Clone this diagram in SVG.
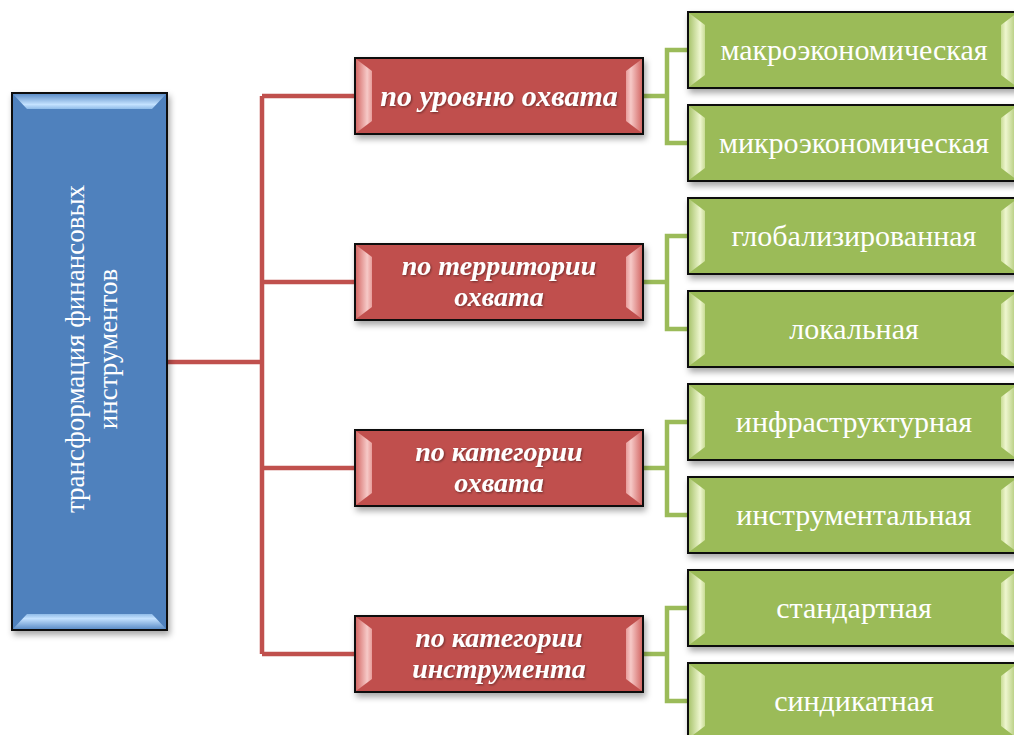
<svg xmlns="http://www.w3.org/2000/svg" width="1014" height="735" viewBox="0 0 1014 735">
<defs>
<filter id="sh" x="-10%" y="-10%" width="130%" height="140%">
<feDropShadow dx="2" dy="4" stdDeviation="3" flood-color="#000" flood-opacity="0.35"/>
</filter>
<filter id="ts" x="-5%" y="-20%" width="110%" height="150%">
<feDropShadow dx="1" dy="1" stdDeviation="1" flood-color="#000" flood-opacity="0.45"/>
</filter>
<linearGradient id="rbL" x1="0" y1="0" x2="1" y2="0"><stop offset="0" stop-color="#d46a67"/><stop offset="0.7" stop-color="#f6c9c7"/><stop offset="1" stop-color="#e79c9a"/></linearGradient>
<linearGradient id="rbR" x1="1" y1="0" x2="0" y2="0"><stop offset="0" stop-color="#d46a67"/><stop offset="0.7" stop-color="#f6c9c7"/><stop offset="1" stop-color="#e79c9a"/></linearGradient>
<linearGradient id="gbL" x1="0" y1="0" x2="1" y2="0"><stop offset="0" stop-color="#aac56f"/><stop offset="0.7" stop-color="#eef6cf"/><stop offset="1" stop-color="#c9dc96"/></linearGradient>
<linearGradient id="gbR" x1="1" y1="0" x2="0" y2="0"><stop offset="0" stop-color="#aac56f"/><stop offset="0.7" stop-color="#eef6cf"/><stop offset="1" stop-color="#c9dc96"/></linearGradient>
<linearGradient id="bbT" x1="0" y1="0" x2="0" y2="1"><stop offset="0" stop-color="#5d8ec8"/><stop offset="0.7" stop-color="#c4e2ff"/><stop offset="1" stop-color="#8fbbe8"/></linearGradient>
<linearGradient id="bbB" x1="0" y1="1" x2="0" y2="0"><stop offset="0" stop-color="#5d8ec8"/><stop offset="0.7" stop-color="#c4e2ff"/><stop offset="1" stop-color="#8fbbe8"/></linearGradient>
</defs>
<style>
.box{stroke:#111;stroke-width:2;filter:url(#sh)}
.red{fill:#c0504d}
.green{fill:#9bbb59}
.blue{fill:#4f81bd}
.rt{font-family:"Liberation Serif","Times New Roman",serif;font-weight:bold;font-style:italic;font-size:30px;fill:#fff;text-anchor:middle;filter:url(#ts)}
.rt2{font-size:28px}
.gt{font-family:"Liberation Serif","Times New Roman",serif;font-size:30px;fill:#fff;text-anchor:middle}
.bt{font-family:"Liberation Serif","Times New Roman",serif;font-size:27px;fill:#fff;text-anchor:middle}
.rc{fill:none;stroke:#c0504d;stroke-width:4.5}
.gc{fill:none;stroke:#9bbb59;stroke-width:4.5}
</style>
<rect width="1014" height="735" fill="#fff"/>
<g id="connectors">
<path class="rc" d="M167 362H262M262 96V654M262 96H355M262 282H355M262 468H355M262 654H355"/>
<path class="gc" d="M643 96H667M688 50H667V143H688"/>
<path class="gc" d="M643 282H667M688 236H667V329H688"/>
<path class="gc" d="M643 468H667M688 422H667V515H688"/>
<path class="gc" d="M643 654H667M688 608H667V701H688"/>
</g>
<g id="root">
<rect class="box blue" x="12" y="93" width="155" height="537"/>
<polygon points="13,94 166,94 152,109 27,109" fill="url(#bbT)"/>
<polygon points="13,629 166,629 152,614 27,614" fill="url(#bbB)"/>
<text class="bt" transform="translate(84,349) rotate(-90)">трансформация финансовых</text>
<text class="bt" transform="translate(117,349) rotate(-90)">инструментов</text>
</g>
<g id="r1">
<rect class="box red" x="355" y="58" width="288" height="76"/>
<polygon points="356,59 372,71 372,121 356,133" fill="url(#rbL)"/>
<polygon points="642,59 626,71 626,121 642,133" fill="url(#rbR)"/>
<text class="rt" x="499" y="106">по уровню охвата</text>
</g>
<g id="r2">
<rect class="box red" x="355" y="244" width="288" height="76"/>
<polygon points="356,245 372,257 372,307 356,319" fill="url(#rbL)"/>
<polygon points="642,245 626,257 626,307 642,319" fill="url(#rbR)"/>
<text class="rt rt2" x="499" y="275">по территории</text>
<text class="rt rt2" x="499" y="306">охвата</text>
</g>
<g id="r3">
<rect class="box red" x="355" y="430" width="288" height="76"/>
<polygon points="356,431 372,443 372,493 356,505" fill="url(#rbL)"/>
<polygon points="642,431 626,443 626,493 642,505" fill="url(#rbR)"/>
<text class="rt rt2" x="499" y="461">по категории</text>
<text class="rt rt2" x="499" y="492">охвата</text>
</g>
<g id="r4">
<rect class="box red" x="355" y="616" width="288" height="76"/>
<polygon points="356,617 372,629 372,679 356,691" fill="url(#rbL)"/>
<polygon points="642,617 626,629 626,679 642,691" fill="url(#rbR)"/>
<text class="rt rt2" x="499" y="647">по категории</text>
<text class="rt rt2" x="499" y="678">инструмента</text>
</g>
<g id="g1">
<rect class="box green" x="688" y="12" width="330" height="76"/>
<polygon points="689,13 705,25 705,75 689,87" fill="url(#gbL)"/>
<polygon points="1017,13 1001,25 1001,75 1017,87" fill="url(#gbR)"/>
<text class="gt" x="854" y="60">макроэкономическая</text>
</g>
<g id="g2">
<rect class="box green" x="688" y="105" width="330" height="76"/>
<polygon points="689,106 705,118 705,168 689,180" fill="url(#gbL)"/>
<polygon points="1017,106 1001,118 1001,168 1017,180" fill="url(#gbR)"/>
<text class="gt" x="854" y="153">микроэкономическая</text>
</g>
<g id="g3">
<rect class="box green" x="688" y="198" width="330" height="76"/>
<polygon points="689,199 705,211 705,261 689,273" fill="url(#gbL)"/>
<polygon points="1017,199 1001,211 1001,261 1017,273" fill="url(#gbR)"/>
<text class="gt" x="854" y="246">глобализированная</text>
</g>
<g id="g4">
<rect class="box green" x="688" y="291" width="330" height="76"/>
<polygon points="689,292 705,304 705,354 689,366" fill="url(#gbL)"/>
<polygon points="1017,292 1001,304 1001,354 1017,366" fill="url(#gbR)"/>
<text class="gt" x="854" y="339">локальная</text>
</g>
<g id="g5">
<rect class="box green" x="688" y="384" width="330" height="76"/>
<polygon points="689,385 705,397 705,447 689,459" fill="url(#gbL)"/>
<polygon points="1017,385 1001,397 1001,447 1017,459" fill="url(#gbR)"/>
<text class="gt" x="854" y="432">инфраструктурная</text>
</g>
<g id="g6">
<rect class="box green" x="688" y="477" width="330" height="76"/>
<polygon points="689,478 705,490 705,540 689,552" fill="url(#gbL)"/>
<polygon points="1017,478 1001,490 1001,540 1017,552" fill="url(#gbR)"/>
<text class="gt" x="854" y="525">инструментальная</text>
</g>
<g id="g7">
<rect class="box green" x="688" y="570" width="330" height="76"/>
<polygon points="689,571 705,583 705,633 689,645" fill="url(#gbL)"/>
<polygon points="1017,571 1001,583 1001,633 1017,645" fill="url(#gbR)"/>
<text class="gt" x="854" y="618">стандартная</text>
</g>
<g id="g8">
<rect class="box green" x="688" y="663" width="330" height="76"/>
<polygon points="689,664 705,676 705,726 689,738" fill="url(#gbL)"/>
<polygon points="1017,664 1001,676 1001,726 1017,738" fill="url(#gbR)"/>
<text class="gt" x="854" y="711">синдикатная</text>
</g>
</svg>
